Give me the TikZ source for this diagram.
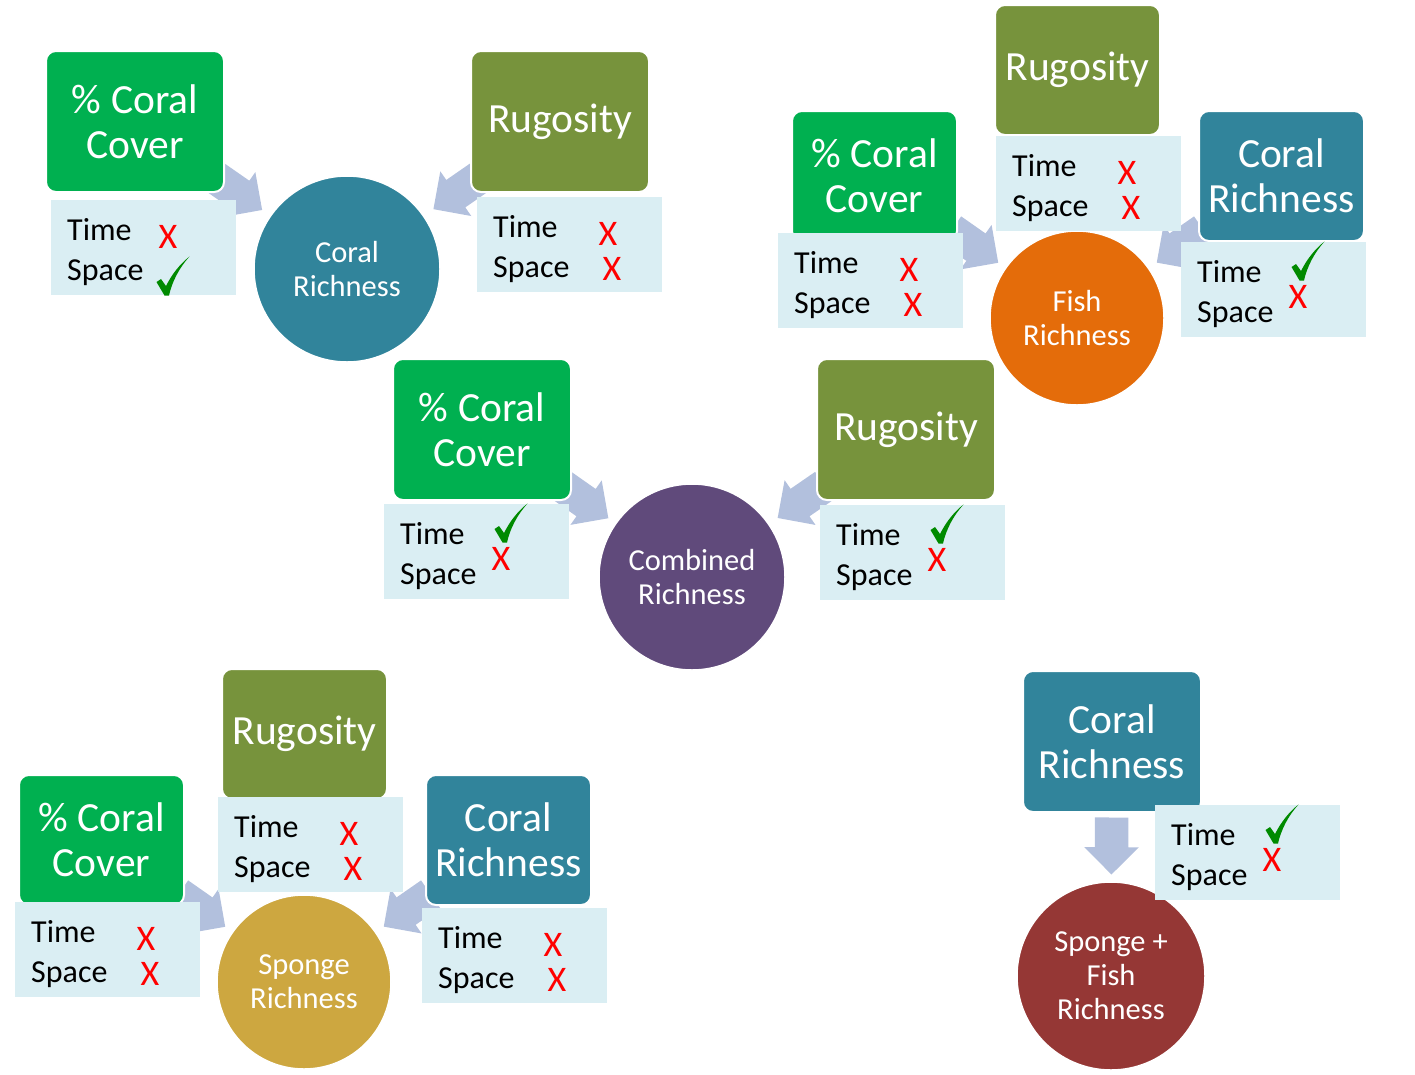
\documentclass[tikz,border=0pt]{standalone}
\usepackage{fontspec}
\setmainfont{Carlito}
\usepackage{tikz}
\usetikzlibrary{
  calc,
  shapes.arrows,
  backgrounds
}
\definecolor{covercolor}{HTML}{00B050}
\definecolor{rugcolor}{HTML}{77933C}
\definecolor{coralcolor}{HTML}{31849B}
\definecolor{infocolor}{HTML}{DAEEF3}
\definecolor{arrowcolor}{HTML}{B2C0DD}
\definecolor{fishcolor}{HTML}{E46C0A}
\definecolor{combcolor}{HTML}{604A7B}
\definecolor{spongecolor}{HTML}{CDA740}
\definecolor{bothcolor}{HTML}{953735}
\definecolor{crosscolor}{HTML}{FF0000}
\definecolor{tickcolor}{HTML}{008A00}

\begin{document}
\begin{tikzpicture}[
  x=1pt, y=-1pt,
  factor/.style={draw=white, line width=2pt, rounded corners=10pt,
                 anchor=north west, text=white, align=center, inner sep=0pt,
                 font=\fontsize{41.5}{45}\selectfont},
  fbig/.style={factor, minimum width=178pt, minimum height=141pt},
  fsmall/.style={factor, minimum width=165pt, minimum height=130pt},
  info/.style={fill=infocolor, anchor=north west, inner sep=0pt,
               minimum width=185pt, minimum height=95pt},
  infotxt/.style={anchor=base west, inner sep=0pt,
                  font=\fontsize{32}{38}\selectfont},
  richness/.style={circle, draw=white, line width=1.5pt, text=white,
                   align=center, inner sep=0pt,
                   font=\fontsize{30.5}{34}\selectfont},
  blockarrow/.style={single arrow, fill=arrowcolor, draw=none,
                     inner xsep=0pt, inner ysep=16.5pt,
                     single arrow head extend=10.5pt, minimum height=57pt,
                     sloped, allow upside down},
  crossmark/.style={text=crosscolor, inner sep=0pt,
                    font=\fontsize{36}{36}\selectfont},
  pics/okmark/.style={code={
    \fill[tickcolor] (-8.5,19.5) -- (-16.5,6) -- (-12,3) -- (-7,10)
      .. controls (-1,-2) and (7,-12) .. (16.5,-19.5)
      .. controls (6,-8) and (-1,6) .. (-4,19.5) -- cycle;}},
  pics/xx/.style={code={
    \node[crossmark] (-a) at (131,37) {X};
    \node[crossmark] (-b) at (135,72) {X};}},
  pics/xok/.style={code={
    \node[crossmark] (-a) at (117,37) {X};
    \pic at (122,76) {okmark};}},
  pics/okx/.style={code={
    \pic at (127,19) {okmark};
    \node[crossmark] (-b) at (117,55) {X};}},
]
  \useasboundingbox (0,0) rectangle (1415,1074);

  % Richness circles
  \node[richness, fill=coralcolor, minimum size=186pt] (cr1) at (347,269) {Coral\\Richness};
  \node[richness, fill=fishcolor, minimum size=174pt] (fish2) at (1077,318) {Fish\\Richness};
  \node[richness, fill=combcolor, minimum size=186pt] (comb3) at (692,577) {Combined\\Richness};
  \node[richness, fill=spongecolor, minimum size=174pt] (sponge4) at (304,982) {Sponge\\Richness};
  \node[richness, fill=bothcolor, minimum size=188pt] (both5) at (1111,976) {Sponge +\\Fish\\Richness};

  % Predictor boxes
  \node[fbig, fill=covercolor] (cov1) at (45,50) {\% Coral\\Cover};
  \node[fbig, fill=rugcolor] (rug1) at (470,50) {Rugosity};

  \node[fsmall, fill=rugcolor] (rug2) at (994,4) {Rugosity};
  \node[fsmall, fill=covercolor] (cov2) at (791,110) {\% Coral\\Cover};
  \node[fsmall, fill=coralcolor] (cor2) at (1198,110) {Coral\\Richness};

  \node[fbig, fill=covercolor] (cov3) at (392,358) {\% Coral\\Cover};
  \node[fbig, fill=rugcolor] (rug3) at (816,358) {Rugosity};

  \node[fsmall, fill=rugcolor] (rug4) at (221,668) {Rugosity};
  \node[fsmall, fill=covercolor] (cov4) at (18,774) {\% Coral\\Cover};
  \node[fsmall, fill=coralcolor] (cor4) at (425,774) {Coral\\Richness};

  \node[fbig, fill=coralcolor] (cor5) at (1022,670) {Coral\\Richness};

  % Time / Space panels
  \foreach \n/\x/\y/\kind in {icov1/51/200/xok, irug1/477/197/xx,
      irug2/996/136/xx, icov2/778/233/xx, icor2/1181/242/okx,
      icov3/384/504/okx, irug3/820/505/okx,
      irug4/218/797/xx, icov4/15/902/xx, icor4/422/908/xx,
      icor5/1155/805/okx} {
    \node[info] (\n) at (\x,\y) {};
    \node[infotxt] (\n-t) at ($(\n.north west)+(16,40)$) {Time};
    \node[infotxt] (\n-s) at ($(\n.north west)+(16,80)$) {Space};
    \pic (\n-m) at (\n.north west) {\kind};
  }

  % Block arrows
  \begin{pgfonlayer}{background}
    \path (cov1.center) -- (cr1.center) node[blockarrow, pos=0.457] (a1) {};
    \path (rug1.center) -- (cr1.center) node[blockarrow, pos=0.452] (a2) {};
    \path (cov2.center) -- (fish2.center) node[blockarrow, pos=0.462] (a3) {};
    \path (cor2.center) -- (fish2.center) node[blockarrow, pos=0.462] (a4) {};
    \path (cov3.center) -- (comb3.center) node[blockarrow, pos=0.458] (a5) {};
    \path (rug3.center) -- (comb3.center) node[blockarrow, pos=0.458] (a6) {};
    \path (cov4.center) -- (sponge4.center) node[blockarrow, pos=0.462] (a7) {};
    \path (cor4.center) -- (sponge4.center) node[blockarrow, pos=0.462] (a8) {};
    \path (cor5.center) -- (both5.center) node[blockarrow, pos=0.41] (a9) {};
  \end{pgfonlayer}

\end{tikzpicture}
\end{document}
